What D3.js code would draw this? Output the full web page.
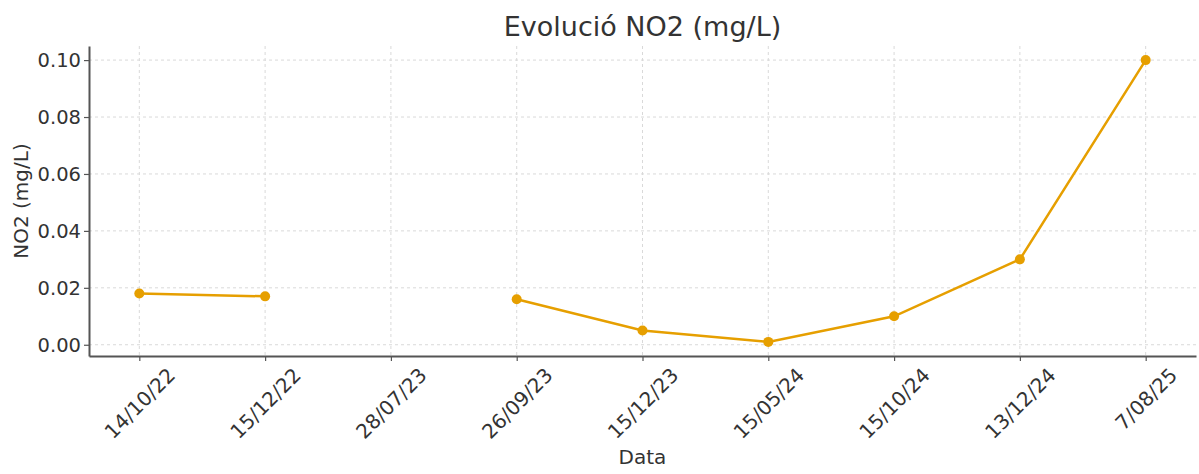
<!DOCTYPE html>
<html><head><meta charset="utf-8">
<script src="https://cdn.jsdelivr.net/npm/d3@7"></script>
<style>body{margin:0;background:#fff}svg{display:block}text{font-family:"DejaVu Sans",sans-serif;fill:#333}</style>
</head><body><svg id="c" width="1199" height="474"></svg>
<script>
const categories = ["14/10/22","15/12/22","28/07/23","26/09/23","15/12/23","15/05/24","15/10/24","13/12/24","7/08/25"];
const no2Values = [0.018, 0.017, null, 0.016, 0.005, 0.001, 0.010, 0.030, 0.100];
const yTicks = [0.00, 0.02, 0.04, 0.06, 0.08, 0.10];
const title = "Evolució NO2 (mg/L)";
const xLabel = "Data";
const yLabel = "NO2 (mg/L)";

const svg = d3.select("#c");
const m = {l: 89, r: 3, t: 46, b: 118};
const W = 1199, H = 474;
const pw = W - m.l - m.r, ph = H - m.t - m.b;
const n = categories.length;
const x = d3.scaleLinear().domain([-0.4, n - 1 + 0.4]).range([m.l, m.l + pw]);
const y = d3.scaleLinear().domain([-0.00395, 0.10495]).range([m.t + ph, m.t]);

const g = svg.append("g");
// grid
g.selectAll(".gx").data(categories).join("line")
  .attr("x1", (d,i)=>x(i)).attr("x2", (d,i)=>x(i)).attr("y1", m.t).attr("y2", m.t+ph)
  .attr("stroke", "#d9d9d9").attr("stroke-width", 1).attr("stroke-dasharray", "3,3");
g.selectAll(".gy").data(yTicks).join("line")
  .attr("x1", m.l).attr("x2", m.l+pw).attr("y1", d=>y(d)).attr("y2", d=>y(d))
  .attr("stroke", "#d9d9d9").attr("stroke-width", 1).attr("stroke-dasharray", "3,3");

// axes
const fsTick = 20;
const xAxis = d3.axisBottom(x).tickValues(d3.range(n)).tickFormat(i=>categories[i]).tickSize(5).tickSizeOuter(0);
const gx = svg.append("g").attr("transform", `translate(0,${m.t+ph})`).call(xAxis);
gx.select(".domain").attr("stroke", "#555").attr("stroke-width", 2);
gx.selectAll(".tick line").attr("stroke", "#555").attr("stroke-width", 1.2);
gx.selectAll(".tick text").attr("font-size", fsTick).attr("fill", "#333")
  .attr("text-anchor", "middle").attr("dy", null).attr("y", 0)
  .attr("dominant-baseline", "central")
  .attr("transform", function(){
    const L = this.getComputedTextLength();
    const off = 10 + (L + fsTick*0.8)/(2*Math.SQRT2);
    return `translate(0,${off}) rotate(-45)`;
  });

const yAxis = d3.axisLeft(y).tickValues(yTicks).tickFormat(d3.format(".2f")).tickSize(5).tickSizeOuter(0);
const gy = svg.append("g").attr("transform", `translate(${m.l},0)`).call(yAxis);
gy.select(".domain").attr("stroke", "#555").attr("stroke-width", 2);
gy.selectAll(".tick line").attr("stroke", "#555").attr("stroke-width", 1.2);
gy.selectAll(".tick text").attr("font-size", 19.5).attr("fill", "#333").attr("x", -8);

// line
const pts = no2Values.map((v,i)=>({i, v}));
const line = d3.line().defined(d=>d.v!==null).x(d=>x(d.i)).y(d=>y(d.v));
svg.append("path").datum(pts).attr("d", line).attr("fill", "none")
  .attr("stroke", "#E69F00").attr("stroke-width", 2.5);
svg.selectAll(".pt").data(pts.filter(d=>d.v!==null)).join("circle")
  .attr("cx", d=>x(d.i)).attr("cy", d=>y(d.v)).attr("r", 5).attr("fill", "#E69F00");

// labels
svg.append("text").attr("x", m.l + pw/2).attr("y", 36).attr("text-anchor", "middle")
  .attr("font-size", 27).text(title);
svg.append("text").attr("x", m.l + pw/2).attr("y", 464).attr("text-anchor", "middle")
  .attr("font-size", 20).text(xLabel);
svg.append("text").attr("transform", `translate(28,${m.t+ph/2}) rotate(-90)`).attr("text-anchor", "middle")
  .attr("font-size", 20).text(yLabel);
</script></body></html>
